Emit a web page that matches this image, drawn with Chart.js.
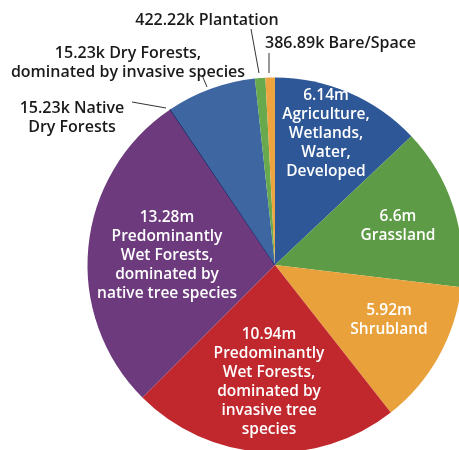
<!DOCTYPE html>
<html>
<head>
<meta charset="utf-8">
<script src="https://cdn.jsdelivr.net/npm/chart.js@4.4.1/dist/chart.umd.min.js"></script>
<style>
  html, body { margin: 0; padding: 0; background: #fff; overflow: hidden; }
  #wrap { position: absolute; left: 0; top: 0; width: 480px; height: 460px; }
</style>
</head>
<body>
<div id="wrap"><canvas id="landChart" width="480" height="460"></canvas></div>
<script>
// Land cover categories, clockwise from 12 o'clock
const categories = [
    'Agriculture, Wetlands, Water, Developed',
    'Grassland',
    'Shrubland',
    'Predominantly Wet Forests, dominated by invasive tree species',
    'Predominantly Wet Forests, dominated by native tree species',
    'Native Dry Forests',
    'Dry Forests, dominated by invasive species',
    'Plantation',
    'Bare/Space'
];
// slice sizes (the dry-invasive slice is drawn much bigger than its label says)
const areaValues = [6140000, 6600000, 5920000, 10940000, 13280000, 15230, 3650000, 422220, 386890];
const sliceColors = ['#2e5797', '#5d9b46', '#e9a23b', '#c1282e', '#6d3a7d', '#1f2d6b', '#3e67a2', '#67a94c', '#eea540'];

// label text, one array of lines per slice
const labelLines = [
    ['6.14m', 'Agriculture,', 'Wetlands,', 'Water,', 'Developed'],
    ['6.6m', 'Grassland'],
    ['5.92m', 'Shrubland'],
    ['10.94m', 'Predominantly', 'Wet Forests,', 'dominated by', 'invasive tree', 'species'],
    ['13.28m', 'Predominantly', 'Wet Forests,', 'dominated by', 'native tree species'],
    ['15.23k Native', 'Dry Forests'],
    ['15.23k Dry Forests,', 'dominated by invasive species'],
    ['422.22k Plantation'],
    ['386.89k Bare/Space']
];

const FONT_IN = '600 15.5px "Open Sans", "Noto Sans", sans-serif';
const FONT_OUT = '600 16px "Open Sans", "Noto Sans", sans-serif';
const LINE_H = 19;

// inside labels: text block center relative to the pie center
const insideSpots = {
    0: { dx: 51, dy: -131 },
    1: { dx: 123, dy: -39 },
    2: { dx: 114, dy: 55 },
    3: { dx: -6, dy: 117 },
    4: { dx: -108, dy: -9 }
};
// outside labels: text anchor, alignment, and leader line ends (relative to pie center)
const outsideSpots = {
    5: { x: -203, y: -157, align: 'center', line: [[-143, -163], [-109, -157]] },
    6: { x: -147, y: -212, align: 'center', line: [[-73, -190], [-68, -178]] },
    7: { x: -68, y: -245, align: 'center', line: [[-24, -236], [-16, -192]] },
    8: { x: -10, y: -222, align: 'left', line: [[-6, -212], [-6, -192]] }
};

const labelPlugin = {
    id: 'sliceLabels',
    afterDatasetsDraw(chart) {
        const ctx = chart.ctx;
        const arcs = chart.getDatasetMeta(0).data;
        const cx = arcs[0].x, cy = arcs[0].y;
        ctx.save();
        ctx.textBaseline = 'middle';
        labelLines.forEach((lines, i) => {
            if (insideSpots[i]) {
                const s = insideSpots[i];
                ctx.font = FONT_IN;
                ctx.fillStyle = '#ffffff';
                ctx.textAlign = 'center';
                const top = cy + s.dy - (lines.length - 1) * LINE_H / 2;
                lines.forEach((t, k) => ctx.fillText(t, cx + s.dx, top + k * LINE_H));
            } else {
                const s = outsideSpots[i];
                ctx.strokeStyle = '#333333';
                ctx.lineWidth = 1;
                ctx.beginPath();
                ctx.moveTo(cx + s.line[0][0], cy + s.line[0][1]);
                ctx.lineTo(cx + s.line[1][0], cy + s.line[1][1]);
                ctx.stroke();
                ctx.font = FONT_OUT;
                ctx.fillStyle = '#1a1a1a';
                ctx.textAlign = s.align;
                lines.forEach((t, k) => ctx.fillText(t, cx + s.x, cy + s.y + k * LINE_H));
            }
        });
        ctx.restore();
    }
};

function loadLandChart() {
    const ctx = document.getElementById('landChart').getContext('2d');
    new Chart(ctx, {
        type: 'pie',
        data: {
            labels: categories,
            datasets: [{
                data: areaValues,
                backgroundColor: sliceColors,
                borderWidth: sliceColors.map((c, i) => i === 5 ? 1 : 0),
                borderColor: sliceColors
            }]
        },
        options: {
            responsive: false,
            animation: false,
            layout: { padding: { left: 87, top: 77, right: 17, bottom: 7 } },
            plugins: {
                legend: { display: false },
                tooltip: { enabled: false }
            }
        },
        plugins: [labelPlugin]
    });
}

loadLandChart();
</script>
</body>
</html>
